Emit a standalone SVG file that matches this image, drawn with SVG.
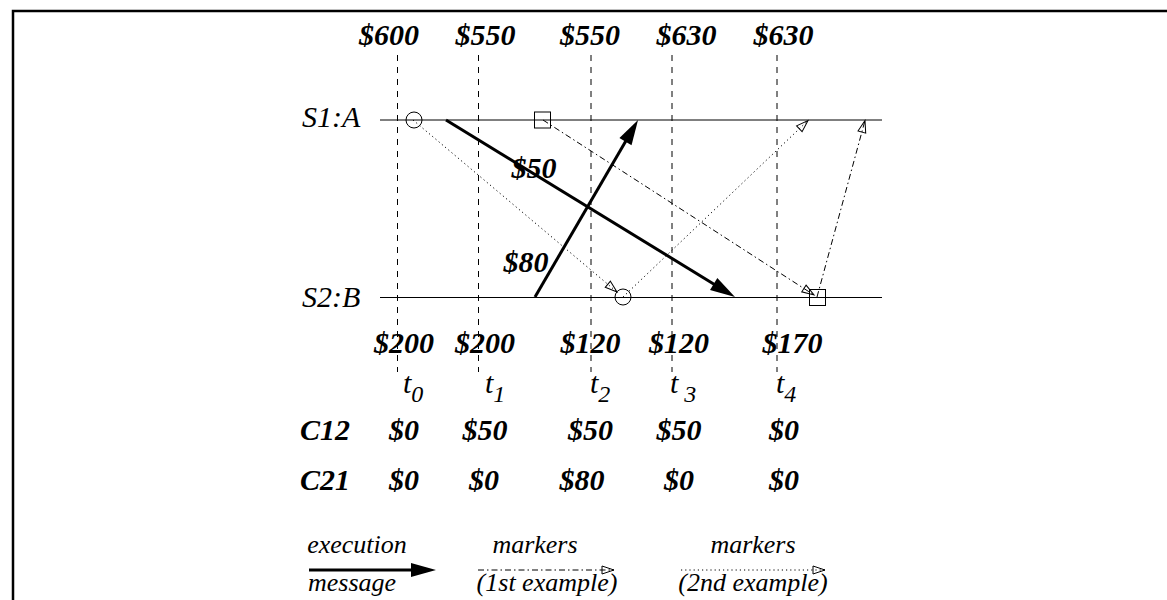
<svg xmlns="http://www.w3.org/2000/svg" width="1167" height="600" viewBox="0 0 1167 600">
<style>
.bi{font-family:"Liberation Serif","Times New Roman",serif;font-style:italic;font-weight:bold;font-size:30px;fill:#000;text-anchor:middle}
.it{font-family:"Liberation Serif","Times New Roman",serif;font-style:italic;font-size:30px;fill:#000}
.lg{font-family:"Liberation Serif","Times New Roman",serif;font-style:italic;font-size:26px;fill:#000;text-anchor:middle}
.sub{font-size:24px}
.vt{stroke:#000;stroke-width:1;stroke-dasharray:6 6;fill:none}
.life{stroke:#000;stroke-width:1;fill:none}
.exec{stroke:#000;stroke-width:3;fill:none;marker-end:url(#fat)}
.dd{stroke:#000;stroke-width:1;fill:none;stroke-dasharray:6 3 1.5 3;marker-end:url(#open)}
.dt{stroke:#000;stroke-width:1;fill:none;stroke-dasharray:1.2 3;marker-end:url(#open)}
.mk{stroke:#000;stroke-width:1;fill:none}
</style>
<defs>
<marker id="fat" markerUnits="userSpaceOnUse" markerWidth="26" markerHeight="14" refX="10" refY="7" orient="auto" overflow="visible">
<path d="M0,0 L25,7 L0,14 z" fill="#000" stroke="none"/>
</marker>
<marker id="open" markerUnits="userSpaceOnUse" markerWidth="14" markerHeight="10" refX="12" refY="4" orient="auto" overflow="visible">
<path d="M0,0 L12,4 L0,8 z" fill="none" stroke="#000" stroke-width="1"/>
</marker>
</defs>
<rect width="1167" height="600" fill="#fff"/>
<path d="M13,600 V11 H1167" fill="none" stroke="#000" stroke-width="2.5"/>

<g id="time-lines">
<line class="vt" x1="397.5" y1="55" x2="397.5" y2="372"/>
<line class="vt" x1="478.5" y1="55" x2="478.5" y2="372"/>
<line class="vt" x1="591" y1="55" x2="591" y2="372"/>
<line class="vt" x1="672" y1="55" x2="672" y2="372"/>
<line class="vt" x1="777" y1="55" x2="777" y2="372"/>
</g>

<g id="top-balances">
<text class="bi" x="389" y="45">$600</text>
<text class="bi" x="485.5" y="45">$550</text>
<text class="bi" x="590" y="45">$550</text>
<text class="bi" x="686.5" y="45">$630</text>
<text class="bi" x="783.5" y="45">$630</text>
</g>

<g id="S1A">
<text class="it" x="302" y="127">S1:A</text>
<line class="life" x1="380" y1="120" x2="882" y2="120"/>
</g>
<g id="S2B">
<text class="it" x="302" y="307">S2:B</text>
<line class="life" x1="380" y1="297.5" x2="882" y2="297.5"/>
</g>

<g id="connectors">
<line class="exec" x1="446" y1="120" x2="722.2" y2="289.2"/>
<line class="exec" x1="535" y1="297" x2="630.5" y2="133"/>
<line class="dt" x1="413" y1="120" x2="617" y2="292"/>
<line class="dt" x1="623" y1="297" x2="808" y2="120.5"/>
<line class="dd" x1="543" y1="120" x2="814" y2="295"/>
<line class="dd" x1="817" y1="297" x2="865" y2="120.5"/>
</g>

<g id="marker-circle-A"><circle class="mk" cx="414" cy="120" r="8"/></g>
<g id="marker-square-A"><rect class="mk" x="534.5" y="112" width="16" height="16"/></g>
<g id="marker-circle-B"><circle class="mk" cx="623" cy="297" r="8"/></g>
<g id="marker-square-B"><rect class="mk" x="809.5" y="289.5" width="16" height="16"/></g>

<g id="msg-labels">
<text class="bi" x="534" y="178">$50</text>
<text class="bi" x="526" y="272">$80</text>
</g>

<g id="bottom-balances">
<text class="bi" x="404" y="353">$200</text>
<text class="bi" x="485" y="353">$200</text>
<text class="bi" x="590.5" y="353">$120</text>
<text class="bi" x="679" y="353">$120</text>
<text class="bi" x="792.5" y="353">$170</text>
</g>

<g id="times">
<text class="it" x="403" y="393">t<tspan class="sub" dy="9">0</tspan></text>
<text class="it" x="485" y="393">t<tspan class="sub" dy="9">1</tspan></text>
<text class="it" x="590" y="393">t<tspan class="sub" dy="9">2</tspan></text>
<text class="it" x="670" y="393">t<tspan class="sub" dy="9"> 3</tspan></text>
<text class="it" x="776" y="393">t<tspan class="sub" dy="9">4</tspan></text>
</g>

<g id="row-C12">
<text class="bi" x="325" y="440">C12</text>
<text class="bi" x="404" y="440">$0</text>
<text class="bi" x="485" y="440">$50</text>
<text class="bi" x="590.5" y="440">$50</text>
<text class="bi" x="679" y="440">$50</text>
<text class="bi" x="784" y="440">$0</text>
</g>
<g id="row-C21">
<text class="bi" x="325" y="490">C21</text>
<text class="bi" x="404" y="490">$0</text>
<text class="bi" x="484" y="490">$0</text>
<text class="bi" x="582" y="490">$80</text>
<text class="bi" x="679" y="490">$0</text>
<text class="bi" x="784" y="490">$0</text>
</g>

<g id="legend">
<text class="lg" x="357" y="553">execution</text>
<line class="exec" x1="309" y1="570" x2="421" y2="570"/>
<text class="lg" x="352" y="591">message</text>
<text class="lg" x="535" y="553">markers</text>
<line class="dd" x1="478" y1="570" x2="614" y2="570"/>
<text class="lg" x="547" y="591">(1st example)</text>
<text class="lg" x="753" y="553">markers</text>
<line class="dt" x1="681" y1="570" x2="825" y2="570"/>
<text class="lg" x="753" y="591">(2nd example)</text>
</g>
</svg>
